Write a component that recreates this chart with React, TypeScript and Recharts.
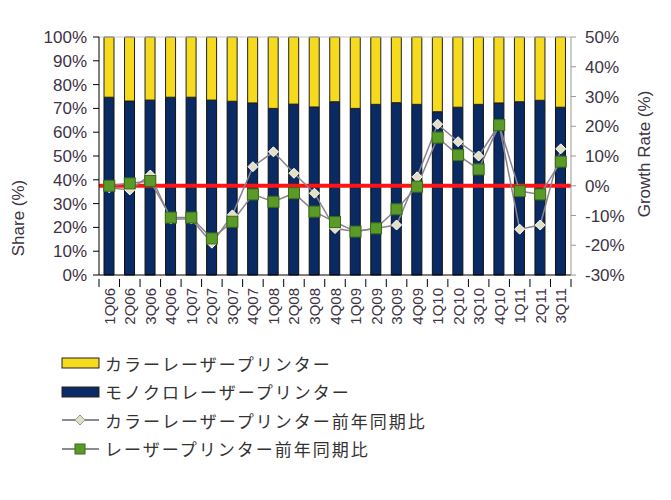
import React from "react";
import {
  Bar,
  ComposedChart,
  Line,
  ReferenceLine,
  XAxis,
  YAxis,
} from "recharts";

const quarters = [
  "1Q06", "2Q06", "3Q06", "4Q06", "1Q07", "2Q07", "3Q07", "4Q07",
  "1Q08", "2Q08", "3Q08", "4Q08", "1Q09", "2Q09", "3Q09", "4Q09",
  "1Q10", "2Q10", "3Q10", "4Q10", "1Q11", "2Q11", "3Q11",
];
// share of units (%), stacked to 100
const monoShare = [
  74.7, 73.1, 73.5, 74.7, 74.7, 73.5, 73.0, 72.3, 70.0, 71.8, 70.6, 72.8,
  70.0, 71.7, 72.4, 71.7, 68.6, 70.5, 71.7, 72.3, 72.8, 73.4, 70.5,
];
const colorShare = [
  25.3, 26.9, 26.5, 25.3, 25.3, 26.5, 27.0, 27.7, 30.0, 28.2, 29.4, 27.2,
  30.0, 28.3, 27.6, 28.3, 31.4, 29.5, 28.3, 27.7, 27.2, 26.6, 29.5,
];
// year-on-year growth (%)
const colorGrowth = [
  -0.7, -1.4, 3.6, -11.2, -11.2, -19.3, -9.8, 6.4, 11.4, 4.2, -2.5, -14.4,
  -15.4, -14.3, -13.2, 3.0, 20.7, 14.8, 10.0, 20.5, -14.6, -13.2, 12.4,
];
const laserGrowth = [
  0.0, 0.8, 1.6, -10.7, -10.7, -17.7, -12.1, -2.9, -5.4, -2.5, -8.7, -12.2,
  -15.4, -14.3, -7.9, -0.3, 16.2, 10.3, 5.5, 20.4, -1.8, -2.9, 8.1,
];
const shareTicks = [0, 10, 20, 30, 40, 50, 60, 70, 80, 90, 100];
const growthTicks = [-30, -20, -10, 0, 10, 20, 30, 40, 50];

const legendItems = [
  { name: "カラーレーザープリンター", kind: "bar", color: "#f6da1e" },
  { name: "モノクロレーザープリンター", kind: "bar", color: "#0a2a64" },
  { name: "カラーレーザープリンター前年同期比", kind: "diamond", color: "#e4e0c4" },
  { name: "レーザープリンター前年同期比", kind: "square", color: "#5a9a28" },
];

const data = quarters.map((q, i) => ({
  q,
  mono: monoShare[i],
  color: colorShare[i],
  colorYoY: colorGrowth[i],
  laserYoY: laserGrowth[i],
}));

const W = 671;
const LEFT_W = 99;
const RIGHT_W = 100;
const BAND = (W - LEFT_W - RIGHT_W) / quarters.length;
const FONT = "'Liberation Sans', Arial, sans-serif";
const TXT = "#3d3344";

function QuarterTick(props: any) {
  const { x, y, payload } = props;
  return (
    <g>
      <line x1={x - BAND / 2} x2={x - BAND / 2} y1={y - 4} y2={y + 4} stroke="#000" />
      {payload.index === quarters.length - 1 && (
        <line x1={x + BAND / 2} x2={x + BAND / 2} y1={y - 4} y2={y + 4} stroke="#000" />
      )}
      <text
        transform={`translate(${x},${y + 5}) rotate(-90)`}
        textAnchor="end"
        dominantBaseline="central"
        fontSize={15}
        fontFamily={FONT}
        fill={TXT}
      >
        {payload.value}
      </text>
    </g>
  );
}

function Diamond(props: any) {
  const { cx, cy } = props;
  if (cx == null || cy == null) return null;
  const r = 5;
  return (
    <polygon
      points={`${cx},${cy - r} ${cx + r},${cy} ${cx},${cy + r} ${cx - r},${cy}`}
      fill="#e4e0c4"
      stroke="#ffffff"
      strokeWidth={1}
    />
  );
}

function Square(props: any) {
  const { cx, cy } = props;
  if (cx == null || cy == null) return null;
  return (
    <rect x={cx - 5.5} y={cy - 5.5} width={11} height={11} fill="#5a9a28" stroke="#3b6a18" strokeWidth={1} />
  );
}

function LegendIcon({ kind, color }: { kind: string; color: string }) {
  if (kind === "bar") {
    return (
      <svg width={42} height={14}>
        <rect x={3} y={2} width={37} height={10} fill={color} stroke="#222" strokeWidth={1} />
      </svg>
    );
  }
  return (
    <svg width={42} height={14}>
      <line x1={3} x2={40} y1={7} y2={7} stroke="#666" strokeWidth={1.5} />
      {kind === "diamond" ? (
        <polygon points="21,2 26,7 21,12 16,7" fill={color} stroke="#999" strokeWidth={1} />
      ) : (
        <rect x={16} y={2} width={10} height={10} fill={color} stroke="#3b6a18" strokeWidth={1} />
      )}
    </svg>
  );
}

export default function App() {
  return (
    <div style={{ position: "absolute", left: 0, top: 0, width: W, height: 500, background: "#fff" }}>
      <ComposedChart
        width={W}
        height={325}
        data={data}
        margin={{ top: 37, right: 0, bottom: 0, left: 0 }}
        barSize={10}
      >
        <XAxis
          dataKey="q"
          interval={0}
          height={50}
          tickLine={false}
          axisLine={{ stroke: "#000" }}
          tick={<QuarterTick />}
        />
        <YAxis
          yAxisId="share"
          width={LEFT_W}
          domain={[0, 100]}
          ticks={shareTicks}
          interval={0}
          tickFormatter={(v) => `${v}%`}
          tickSize={6}
          tickMargin={6}
          axisLine={{ stroke: "#000" }}
          tickLine={{ stroke: "#000" }}
          tick={{ fontSize: 17, fill: TXT, fontFamily: FONT }}
          label={() => (
            <text
              transform="translate(24,218) rotate(-90)"
              textAnchor="middle"
              fontSize={17}
              fontFamily={FONT}
              fill={TXT}
            >
              Share (%)
            </text>
          )}
        />
        <YAxis
          yAxisId="growth"
          orientation="right"
          width={RIGHT_W}
          domain={[-30, 50]}
          ticks={growthTicks}
          interval={0}
          tickFormatter={(v) => `${v}%`}
          tickSize={5}
          tickMargin={9}
          axisLine={{ stroke: "#999" }}
          tickLine={{ stroke: "#999" }}
          tick={{ fontSize: 17, fill: TXT, fontFamily: FONT, textAnchor: "start" }}
          label={() => (
            <text
              transform="translate(650,154) rotate(-90)"
              textAnchor="middle"
              fontSize={17}
              fontFamily={FONT}
              fill={TXT}
            >
              Growth Rate (%)
            </text>
          )}
        />
        <ReferenceLine yAxisId="share" y={100} stroke="#c8c8c8" strokeWidth={1} />
        <Bar
          yAxisId="share"
          dataKey="mono"
          stackId="s"
          fill="#0a2a64"
          stroke="#111"
          strokeWidth={1}
          isAnimationActive={false}
        />
        <Bar
          yAxisId="share"
          dataKey="color"
          stackId="s"
          fill="#f6da1e"
          stroke="#222"
          strokeWidth={1}
          isAnimationActive={false}
        />
        <ReferenceLine yAxisId="growth" y={0} stroke="#ff1414" strokeWidth={4} />
        <Line
          yAxisId="growth"
          dataKey="colorYoY"
          type="linear"
          stroke="#8a8290"
          strokeWidth={1.5}
          dot={<Diamond />}
          activeDot={false}
          isAnimationActive={false}
        />
        <Line
          yAxisId="growth"
          dataKey="laserYoY"
          type="linear"
          stroke="#8a8290"
          strokeWidth={1.5}
          dot={<Square />}
          activeDot={false}
          isAnimationActive={false}
        />
      </ComposedChart>
      <div style={{ position: "absolute", left: 59, top: 349 }}>
        {legendItems.map((it) => (
          <div
            key={it.name}
            style={{
              display: "flex",
              alignItems: "center",
              height: 28.5,
              fontFamily: "'Noto Sans CJK JP', sans-serif",
              fontSize: 17,
              letterSpacing: 2,
              color: "#333",
              whiteSpace: "nowrap",
            }}
          >
            <LegendIcon kind={it.kind} color={it.color} />
            <span style={{ marginLeft: 4 }}>{it.name}</span>
          </div>
        ))}
      </div>
    </div>
  );
}
